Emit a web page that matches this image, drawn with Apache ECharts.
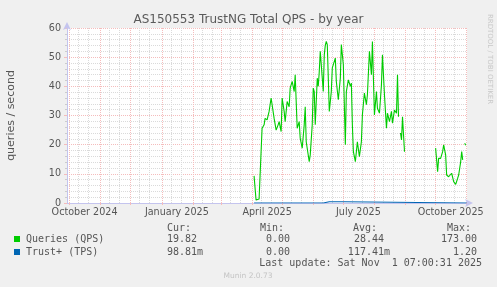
<!DOCTYPE html>
<html><head><meta charset="utf-8">
<script src="https://cdn.jsdelivr.net/npm/echarts@6/dist/echarts.min.js"></script>
<style>html,body{margin:0;padding:0;background:#f0f0f0;} #c{width:497px;height:287px;}</style>
</head><body><div id="c"></div>
<script>
// ---------- data ----------
const titleText = 'AS150553 TrustNG Total QPS - by year';
const yAxisName = 'queries / second';
const sideText = 'RRDTOOL / TOBI OETIKER';
const footerText = 'Munin 2.0.73';
const lastUpdate = 'Last update: Sat Nov  1 07:00:31 2025';
const yMin = 0, yMax = 60, yStep = 10;
const xStart = '2024-09-28 12:00';
const xEnd = '2025-11-01 07:00';
const monthStarts = ['2024-09-01','2024-10-01','2024-11-01','2024-12-01','2025-01-01','2025-02-01','2025-03-01',
  '2025-04-01','2025-05-01','2025-06-01','2025-07-01','2025-08-01','2025-09-01','2025-10-01','2025-11-01'];
const xLabelDates = ['2024-10-16','2025-01-16','2025-04-16','2025-07-16','2025-10-16'];
const xLabelTexts = ['October 2024','January 2025','April 2025','July 2025','October 2025'];

const qpsDates = ['2025-04-03','2025-04-05','2025-04-08','2025-04-11','2025-04-13','2025-04-14','2025-04-16','2025-04-18',
 '2025-04-20','2025-04-23','2025-04-24','2025-04-25','2025-04-27','2025-04-28','2025-04-30','2025-05-01','2025-05-03',
 '2025-05-04','2025-05-06','2025-05-08','2025-05-09','2025-05-11','2025-05-13','2025-05-14','2025-05-16','2025-05-18',
 '2025-05-19','2025-05-21','2025-05-23','2025-05-24','2025-05-25','2025-05-28','2025-05-29','2025-05-31','2025-06-01',
 '2025-06-02','2025-06-03','2025-06-05','2025-06-06','2025-06-07','2025-06-08','2025-06-11','2025-06-12','2025-06-13',
 '2025-06-14','2025-06-15','2025-06-17','2025-06-19','2025-06-20','2025-06-23','2025-06-24','2025-06-26','2025-06-28',
 '2025-06-29','2025-07-01','2025-07-03','2025-07-04','2025-07-06','2025-07-08','2025-07-09','2025-07-10','2025-07-11',
 '2025-07-13','2025-07-14','2025-07-15','2025-07-17','2025-07-19','2025-07-20','2025-07-22','2025-07-24','2025-07-25',
 '2025-07-27','2025-07-29','2025-07-30','2025-08-01','2025-08-03','2025-08-04','2025-08-06','2025-08-08','2025-08-09',
 '2025-08-11','2025-08-13','2025-08-14','2025-08-16','2025-08-18','2025-08-19','2025-08-21','2025-08-23','2025-08-24',
 '2025-08-25','2025-08-26','2025-08-27','2025-08-28','2025-08-29','2025-08-30','2025-08-31','2025-09-15','2025-10-01',
 '2025-10-03','2025-10-04','2025-10-06','2025-10-08','2025-10-09','2025-10-11','2025-10-12','2025-10-14','2025-10-15',
 '2025-10-17','2025-10-18','2025-10-19','2025-10-21','2025-10-23','2025-10-24','2025-10-26','2025-10-27','2025-10-28',
 '2025-10-29','2025-10-30','2025-10-31'];
const qpsValues = [9.3,1.0,1.4,25.6,26.8,29.0,28.5,31.4,
 36.0,29.0,29.5,25.0,26.8,27.9,24.5,36.0,31.4,
 27.9,34.8,33.0,39.4,41.7,38.2,44.0,25.6,27.9,
 22.2,18.8,26.8,33.0,21.0,14.2,16.5,26.8,39.4,
 38.2,26.8,42.8,40.0,45.0,52.0,38.2,50.8,54.0,
 55.4,54.3,31.4,38.2,46.3,49.7,41.7,35.4,42.8,
 54.3,47.4,20.0,38.2,42.2,40.0,41.1,26.8,17.6,
 14.2,14.8,21.0,15.9,21.0,30.2,37.7,33.7,37.1,
 52.0,44.0,55.4,30.2,38.2,32.5,30.8,40.5,50.8,
 37.1,25.6,30.8,27.9,31.4,27.4,31.9,30.8,44.0,
 29.6,null,24.0,21.6,29.6,23.4,17.6,null,18.8,
 10.7,15.3,15.3,17.6,19.9,16.5,9.6,9.0,9.6,
 10.2,9.6,7.3,6.4,8.5,9.6,14.2,17.6,14.8,
 null,20.5,19.8];

const tpsDates = ['2025-04-03','2025-06-11','2025-06-12','2025-06-17','2025-06-18','2025-06-19','2025-07-02','2025-07-03','2025-11-01'];
const tpsValues = [0,0,0.45,0.45,0.05,0.45,0.45,0,0];

const legendNames = ['Queries (QPS)','Trust+ (TPS)'];
const legendColors = ['#00cc00','#0066b3'];
const colHeaders = ['Cur:','Min:','Avg:','Max:'];
const legendCur = ['19.82','98.81m'];
const legendMin = ['0.00','0.00'];
const legendAvg = ['28.44','117.41m'];
const legendMax = ['173.00','1.20'];

// ---------- helpers ----------
function ts(s){ const [d,t] = s.split(' '); const [y,m,dd] = d.split('-').map(Number);
  let h=0,mi=0; if(t){[h,mi]=t.split(':').map(Number);} return new Date(y,m-1,dd,h,mi).getTime(); }
const monthTs = monthStarts.map(ts);
const minorTs = [];
monthStarts.forEach(s => { const [y,m] = s.split('-').map(Number);
  minorTs.push(new Date(y,m-1,10).getTime()); minorTs.push(new Date(y,m-1,20).getTime()); });
const labelTs = xLabelDates.map(ts);
const X0 = ts(xStart), X1 = ts(xEnd);
const inRange = v => v > X0 && v < X1;

const chart = echarts.init(document.getElementById('c'), null, {renderer:'canvas'});
const FONT = 'DejaVu Sans';
const MONO = 'DejaVu Sans Mono';
const txtCol = '#555555';
const axisCol = '#c4c4ee';
const majorGrid = '#f5bcbc';
const minorGrid = '#dadada';

const gridLeft = 67, gridTop = 28, gridRight = 467, gridBottom = 203;

const graphics = [
  {type:'text', left:'center', top:14, style:{text:titleText, font:'12px "'+FONT+'"', fill:'#5a5a5a'}},
  {type:'text', x:11, y:(gridTop+gridBottom)/2, rotation:Math.PI/2,
    style:{text:yAxisName, font:'11px "'+FONT+'"', fill:txtCol, align:'center', verticalAlign:'middle'}},
  {type:'text', x:490, y:59, rotation:-Math.PI/2,
    style:{text:sideText, font:'7px "'+FONT+'"', fill:'#c8c8c8', align:'center', verticalAlign:'middle'}},
  {type:'text', x:248, y:276, style:{text:footerText, font:'7.5px "'+FONT+'"', fill:'#c4c4c4', align:'center', verticalAlign:'middle'}},
  {type:'text', x:482, y:263, style:{text:lastUpdate, font:'10px "'+MONO+'"', fill:txtCol, align:'right', verticalAlign:'middle'}}
];
const headerX = [167,260,353,447];
colHeaders.forEach((h,i)=>graphics.push({type:'text', x:headerX[i], y:228,
  style:{text:h, font:'10px "'+MONO+'"', fill:txtCol, align:'left', verticalAlign:'middle'}}));
const rowY = [239,252];
const colRight = [203,296,390,483];
legendNames.forEach((n,i)=>{
  graphics.push({type:'rect', shape:{x:14,y:rowY[i]-3,width:6,height:6}, style:{fill:legendColors[i]}});
  graphics.push({type:'text', x:26, y:rowY[i], style:{text:n, font:'10px "'+MONO+'"', fill:txtCol, align:'left', verticalAlign:'middle'}});
  [legendCur,legendMin,legendAvg,legendMax].forEach((arr,j)=>{
    const v = arr[i]; const suf = v.endsWith('m');
    graphics.push({type:'text', x: colRight[j] - (suf?0:6), y:rowY[i],
      style:{text:v, font:'10px "'+MONO+'"', fill:txtCol, align:'right', verticalAlign:'middle'}});
  });
});

const xBase = {type:'value', min:X0, max:X1, position:'bottom', gridIndex:0, scale:true};
const option = {
  backgroundColor:'#f0f0f0',
  animation:false,
  grid:{left:gridLeft, top:gridTop, right:497-gridRight, bottom:287-gridBottom, show:true,
    backgroundColor:'#ffffff', borderWidth:0, containLabel:false},
  xAxis:[
    Object.assign({}, xBase, {
      axisLine:{show:false}, axisLabel:{show:false},
      axisTick:{show:false, customValues:minorTs.filter(inRange)},
      splitLine:{show:true, lineStyle:{color:minorGrid, width:1, type:[1,1]}}
    }),
    Object.assign({}, xBase, {
      axisLine:{show:true, onZero:false, lineStyle:{color:axisCol, width:1}, symbol:['none','arrow'], symbolSize:[6,8], symbolOffset:[0,6]},
      axisTick:{show:true, customValues:monthTs.filter(inRange), length:2, lineStyle:{color:majorGrid}},
      axisLabel:{show:true, customValues:labelTs, margin:4, color:txtCol, fontFamily:FONT, fontSize:9.6,
        formatter:(v)=>{ const k = labelTs.indexOf(v); return k>=0 ? xLabelTexts[k] : ''; }},
      splitLine:{show:true, lineStyle:{color:majorGrid, width:1, type:[1,1]}}
    })
  ],
  yAxis:{type:'value', min:yMin, max:yMax, interval:yStep,
    axisLine:{show:true, lineStyle:{color:axisCol, width:1}, symbol:['none','arrow'], symbolSize:[6,8], symbolOffset:[0,6]},
    axisTick:{show:true, length:3, inside:false, lineStyle:{color:majorGrid}},
    minorTick:{show:true, splitNumber:5, length:2, lineStyle:{color:'#cccccc'}},
    axisLabel:{color:txtCol, fontFamily:FONT, fontSize:9.6, margin:6},
    splitLine:{show:true, lineStyle:{color:majorGrid, width:1, type:[1,1]}},
    minorSplitLine:{show:true, lineStyle:{color:minorGrid, width:1, type:[1,1]}}
  },
  series:[
    {name:legendNames[0], type:'line', xAxisIndex:1, showSymbol:false, connectNulls:false,
      lineStyle:{color:legendColors[0], width:1.1}, itemStyle:{color:legendColors[0]},
      data:qpsDates.map((d,i)=>[ts(d), qpsValues[i]]), z:3},
    {name:legendNames[1], type:'line', xAxisIndex:1, showSymbol:false, connectNulls:false,
      lineStyle:{color:legendColors[1], width:1.1}, itemStyle:{color:legendColors[1]},
      data:tpsDates.map((d,i)=>[ts(d), tpsValues[i]]), z:4}
  ],
  graphic:graphics
};
chart.setOption(option);
</script></body></html>
